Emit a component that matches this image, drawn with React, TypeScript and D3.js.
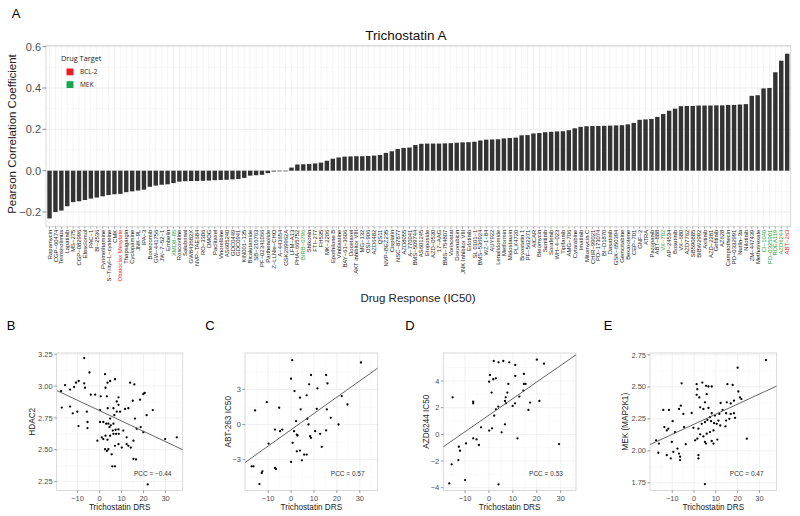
import React from "react";
import * as d3 from "d3";

const drugs: string[] = [
  "Rapamycin","CGP-60474","Temsirolimus","Lapatinib","MS-275","CGP-082996","Elesclomol","PAC-1","BI-2536","Pyrimethamine",
  "S-Trityl-L-cysteine","CMK","Obatoclax Mesylate","Thapsigargin","Cyclopamine","JNK-9L","IPA-3","Bortezomib","GW-441756","JW-7-52-1",
  "Embelin","XMD8-85","Roscovitine","Salubrinal","GW843682X","NVP-TAE684","RO-3306","DMOG","Paclitaxel","Vinorelbine",
  "AS605240","GDC0449","GDC0941","KIN001-135","Bicalutamide","SB-216763","PF-02341066","Parthenolide","Z-LLNle-CHO","A-443654",
  "GSK269962A","LFM-A13","PHA-665752","BIRB-0796","Shikonin","FTI-277","FH535","MK-2206","Epothilone B","Vinblastine",
  "BAY-61-3606","Docetaxel","AKT inhibitor VIII","MG-132","OSI-906","AZD6482","QS11","NVP-BEZ235","Cisplatin","NSC-87877",
  "AZD8055","A-770041","BMS-509744","AS601245","Etoposide","AZD-0530","17-AAG","BMS-754807","Vorinostat","Doxorubicin",
  "JNK Inhibitor VIII","Erlotinib","SL 0101-1","BMS-536924","WZ-1-84","AUY922","Lenalidomide","Metformin","Midostaurin","PLX4720",
  "Bryostatin 1","PF-562271","AICAR","Bleomycin","Sunitinib","Sorafenib","WH-4-023","Tipifarnib","AMG-706","Cytarabine",
  "Imatinib","Mitomycin C","CHIR-99021","PD-173074","BI-D1870","Dasatinib","GSK-650394","Gemcitabine","Bexarotene","CEP-701",
  "GNF-2","ATRA","Pazopanib","ABT-888","VX-702","AP-24534","Bosutinib","VX-680","AZD7762","SB590885",
  "BIBW2992","Axitinib","AZD-2281","Gefitinib","AZ628","Camptothecin","PD-0332991","Nutlin-3a","Nilotinib","ZM-447439",
  "Methotrexate","CI-1040","PD-0325901","RDEA119","AZD6244","ABT-263",
];

const pccValues: number[] = [
  -0.231,-0.200,-0.193,-0.172,-0.152,-0.148,-0.142,-0.135,-0.130,-0.124,
  -0.118,-0.114,-0.112,-0.104,-0.100,-0.096,-0.092,-0.078,-0.072,-0.068,
  -0.066,-0.060,-0.053,-0.051,-0.050,-0.050,-0.049,-0.048,-0.046,-0.045,
  -0.044,-0.042,-0.040,-0.035,-0.024,-0.022,-0.020,-0.012,-0.004,-0.003,
  -0.003,0.015,0.030,0.031,0.032,0.035,0.039,0.048,0.058,0.064,
  0.068,0.069,0.070,0.070,0.071,0.073,0.076,0.086,0.094,0.105,
  0.110,0.112,0.124,0.130,0.131,0.131,0.131,0.132,0.133,0.135,
  0.137,0.138,0.140,0.146,0.150,0.151,0.152,0.156,0.158,0.160,
  0.171,0.172,0.180,0.182,0.186,0.188,0.190,0.191,0.196,0.205,
  0.212,0.215,0.216,0.216,0.217,0.218,0.219,0.220,0.224,0.231,
  0.246,0.248,0.250,0.260,0.274,0.290,0.300,0.312,0.313,0.313,
  0.315,0.315,0.315,0.316,0.316,0.318,0.318,0.320,0.322,0.362,
  0.365,0.398,0.400,0.476,0.532,0.566,
];

const bcl2Drugs: string[] = ["Obatoclax Mesylate", "ABT-263"];
const mekDrugs: string[] = ["XMD8-85", "BIRB-0796", "VX-702", "CI-1040", "PD-0325901", "RDEA119", "AZD6244"];
const barTicks: number[] = [-0.2, 0, 0.2, 0.4, 0.6];
const barMinorTicks: number[] = [-0.1, 0.1, 0.3, 0.5];

const hdac2Points: [number, number][] = [
  [-7,3.22],[-4.6,3.107],[-15.7,3.008],[-17.5,2.96],[-13.4,2.973],[-11.6,2.992],[-10.7,3.027],[-7.0,3.021],[-6.6,2.987],[-9.5,3.04],
  [2.5,3.094],[3.6,3.027],[4.8,3.04],[7.0,3.054],[2.7,2.987],[0.5,2.92],[3.3,2.92],[13.9,3.027],[15.8,3.013],[19.9,2.938],
  [20.5,2.946],[-17.2,2.831],[-13.4,2.839],[-12.2,2.786],[-10.1,2.799],[-5.8,2.799],[-5.5,2.718],[-4.0,2.933],[-2.0,2.933],[0.2,2.812],
  [3.7,2.826],[6.3,2.826],[7.8,2.879],[8.6,2.853],[8.6,2.912],[7.8,2.799],[9.3,2.799],[11.6,2.82],[13.1,2.826],[15.1,2.885],
  [18.4,2.893],[21.4,2.772],[24.2,2.812],[16.1,2.745],[0.2,2.718],[1.7,2.718],[3.0,2.705],[4.0,2.705],[5.1,2.692],[6.0,2.651],
  [7.3,2.657],[8.6,2.66],[6.7,2.772],[4.8,2.745],[4.5,2.678],[6.3,2.705],[-9.6,2.686],[-5.5,2.67],[-1.0,2.571],[1.0,2.598],
  [1.7,2.584],[2.7,2.611],[3.6,2.579],[4.8,2.611],[6.3,2.625],[7.5,2.625],[8.7,2.625],[10.8,2.651],[12.3,2.598],[15.4,2.571],
  [16.9,2.665],[18.7,2.678],[29.8,2.584],[35.1,2.598],[7.0,2.531],[8.6,2.544],[10.1,2.517],[4.0,2.504],[5.5,2.464],[12.3,2.544],
  [13.1,2.531],[14.2,2.517],[15.4,2.429],[16.6,2.424],[5.8,2.37],[7.0,2.37],[2.5,2.504],[3.3,2.491],[19.9,2.638],[21.9,2.228],
];

const abt263Points: [number, number][] = [
  [0.5,5.5],[30.5,5.3],[0,3.91],[8.7,4.23],[15.3,4.23],[7.9,3.43],[1.5,2.86],[11.5,3.09],[15.9,3.51],[3.9,2.29],
  [6.8,2.49],[-10.6,1.91],[-5.2,1.43],[-15.7,1.2],[4.2,1.29],[11.2,1.34],[15.6,1.29],[7.1,0.49],[17.3,0.57],[22.1,2.43],
  [24.6,1.71],[20.7,0],[7.6,0],[2.2,0.29],[-7.0,-0.43],[-3.8,-0.43],[-4.8,-0.57],[1.3,-0.57],[2.5,-0.86],[2.8,-0.94],
  [8.3,-1.0],[8.7,-1.14],[10.5,-0.57],[12.7,-0.8],[15.3,-0.51],[-9.8,-1.63],[0.7,-1.57],[2.5,-2.29],[3.9,-2.23],[5.7,-2.57],
  [6.8,-2.57],[4.7,-3.06],[0,-3.2],[13.4,-1.91],[-17.2,-3.57],[-16.4,-3.57],[-7.0,-3.71],[-6.6,-3.8],[-12.8,-4.14],[-12.5,-4.0],
  [-13.8,-5.09],
];

const azd6244Points: [number, number][] = [
  [2,5.5],[4,5.4],[6,5.5],[8.5,5.4],[11,5.2],[20,5.6],[23,5.3],
  [0.4,4.45],[1.8,4.13],[2.9,4.2],[0.1,3.95],[11.0,4.38],[14.6,4.53],[14.6,3.78],[15.3,3.78],[8.1,3.78],[14.4,3.28],[1.1,3.13],
  [7.7,3.13],[7.0,2.78],[-15.2,2.78],[-6.6,2.45],[-6.6,2.33],[6.7,2.5],[7.1,2.33],[12.7,2.83],[10.9,2.33],[9.9,2.13],
  [17.2,2.38],[21.1,2.5],[2.9,1.88],[3.9,2.08],[2.2,1.4],[16.5,1.83],[6.7,0.75],[1.3,0.45],[-3.3,0.53],[0.1,0.28],
  [5.3,0.15],[-6.6,-0.3],[-5.2,-0.38],[-9.6,-0.68],[-4.2,-0.8],[11.9,-0.3],[29.3,-0.73],[-12.6,-0.93],[-12.1,-1.23],[-12.8,-1.93],
  [-15.6,-2.25],[-10.0,-3.43],[-16.6,-3.68],[4.0,-3.75],
];

const mekPoints: [number, number][] = [
  [33,2.71],[20,2.65],
  [-5.7,2.528],[3.8,2.534],[5.5,2.508],[1.2,2.521],[1.5,2.482],[6.6,2.503],[8.1,2.503],[15.3,2.521],[17.7,2.515],[20.3,2.464],
  [21.1,2.418],[21.7,2.405],[1.2,2.438],[2.4,2.418],[5.8,2.443],[5.0,2.379],[12.2,2.374],[15.0,2.379],[16.8,2.371],[18.3,2.392],
  [-6.1,2.353],[-6.9,2.327],[-11.5,2.32],[-14.1,2.32],[-4.9,2.289],[-1.1,2.296],[2.8,2.34],[4.3,2.327],[6.6,2.335],[8.1,2.294],
  [7.3,2.263],[9.6,2.276],[11.6,2.289],[13.1,2.32],[14.7,2.294],[16.8,2.289],[18.3,2.294],[18.8,2.258],[-13.6,2.186],[-12.5,2.16],
  [-11.8,2.173],[-9.8,2.232],[-8.7,2.147],[-4.6,2.186],[-0.3,2.18],[2.0,2.173],[3.5,2.211],[5.0,2.224],[6.1,2.242],[7.8,2.232],
  [9.2,2.216],[10.4,2.211],[11.2,2.237],[12.0,2.198],[14.4,2.191],[14.7,2.237],[16.2,2.25],[2.8,2.129],[4.3,2.113],[5.8,2.134],
  [5.0,2.07],[5.5,2.057],[7.3,2.147],[8.9,2.16],[10.7,2.088],[8.1,2.077],[0.5,2.082],[1.5,2.095],[24.2,2.095],[-17.4,2.082],
  [-16.1,2.057],[-10.2,2.07],[-9.5,1.992],[-7.6,2.018],[-6.9,1.979],[-6.4,1.954],[-6.4,1.928],[-12.5,1.966],[-10.7,1.941],[-16.4,1.985],
  [2.0,1.966],[2.0,1.941],[-3.8,2.052],[5.0,1.74],[8.9,2.057],
];

// [intercept, slope] of the fitted line in each scatter
const hdac2Fit: [number, number] = [2.807, -0.00811];
const abt263Fit: [number, number] = [-0.448, 0.1394];
const azd6244Fit: [number, number] = [1.442, 0.1242];
const mekFit: [number, number] = [2.208, 0.00788];

const scatterXTicks: number[] = [-10, 0, 10, 20, 30];

const FONT = "'Liberation Sans', Arial, Helvetica, sans-serif";
const fmtMinus = (s: string) => s.replace("-", "\u2212");

type ScatterProps = {
  id: string;
  letter: string;
  letterX: number;
  left: number;
  right: number;
  top: number;
  bottom: number;
  xDomain: [number, number];
  yDomain: [number, number];
  yTicks: number[];
  yFmt: (v: number) => string;
  points: [number, number][];
  fit: [number, number];
  yLabel: string;
  pcc: string;
};

function Scatter(p: ScatterProps) {
  const x = d3.scaleLinear().domain(p.xDomain).range([p.left, p.right]);
  const y = d3.scaleLinear().domain(p.yDomain).range([p.bottom, p.top]);
  const xMinor = scatterXTicks.map((t) => t - 5).concat([scatterXTicks[scatterXTicks.length - 1] + 5]).filter((t) => t > p.xDomain[0] && t < p.xDomain[1]);
  const yStep = p.yTicks[1] - p.yTicks[0];
  const yMinor = [p.yTicks[0] - yStep / 2, ...p.yTicks.map((t) => t + yStep / 2)].filter((t) => t > p.yDomain[0] && t < p.yDomain[1]);
  const [a, b] = p.fit;
  const cx = (p.left + p.right) / 2;
  const cy = (p.top + p.bottom) / 2;
  return (
    <g>
      <text x={p.letterX} y={330} fontSize={13} fontFamily={FONT} textAnchor="middle" fill="#000">{p.letter}</text>
      <defs>
        <clipPath id={`clip-${p.id}`}>
          <rect x={p.left} y={p.top} width={p.right - p.left} height={p.bottom - p.top} />
        </clipPath>
      </defs>
      <rect x={p.left} y={p.top} width={p.right - p.left} height={p.bottom - p.top} fill="#fff" />
      {xMinor.map((t) => (
        <line key={`xm${t}`} x1={x(t)} x2={x(t)} y1={p.top} y2={p.bottom} stroke="#f4f4f4" strokeWidth={0.5} />
      ))}
      {yMinor.map((t) => (
        <line key={`ym${t}`} x1={p.left} x2={p.right} y1={y(t)} y2={y(t)} stroke="#f4f4f4" strokeWidth={0.5} />
      ))}
      {scatterXTicks.map((t) => (
        <line key={`xg${t}`} x1={x(t)} x2={x(t)} y1={p.top} y2={p.bottom} stroke="#ebebeb" strokeWidth={0.7} />
      ))}
      {p.yTicks.map((t) => (
        <line key={`yg${t}`} x1={p.left} x2={p.right} y1={y(t)} y2={y(t)} stroke="#ebebeb" strokeWidth={0.7} />
      ))}
      <rect x={p.left} y={p.top} width={p.right - p.left} height={p.bottom - p.top} fill="none" stroke="#d0d0d0" strokeWidth={0.8} />
      <g clipPath={`url(#clip-${p.id})`}>
        {p.points.map((d, i) => (
          <circle key={i} cx={x(d[0])} cy={y(d[1])} r={1.15} fill="#000" />
        ))}
        <line
          x1={x(p.xDomain[0])}
          y1={y(a + b * p.xDomain[0])}
          x2={x(p.xDomain[1])}
          y2={y(a + b * p.xDomain[1])}
          stroke="#555"
          strokeWidth={0.9}
        />
      </g>
      {scatterXTicks.map((t) => (
        <g key={`xt${t}`}>
          <line x1={x(t)} x2={x(t)} y1={p.bottom} y2={p.bottom + 2.5} stroke="#555" strokeWidth={0.6} />
          <text x={x(t)} y={p.bottom + 10} fontSize={7.5} fontFamily={FONT} textAnchor="middle" fill="#4d4d4d">
            {fmtMinus(String(t))}
          </text>
        </g>
      ))}
      {p.yTicks.map((t) => (
        <g key={`yt${t}`}>
          <line x1={p.left - 2.5} x2={p.left} y1={y(t)} y2={y(t)} stroke="#555" strokeWidth={0.6} />
          <text x={p.left - 4} y={y(t) + 2.6} fontSize={7.5} fontFamily={FONT} textAnchor="end" fill="#4d4d4d">
            {fmtMinus(p.yFmt(t))}
          </text>
        </g>
      ))}
      <text x={cx} y={p.bottom + 19} fontSize={8.2} fontFamily={FONT} textAnchor="middle" fill="#222">Trichostatin DRS</text>
      <text
        transform={`translate(${p.left - (p.yFmt(p.yTicks[0]).length > 2 ? 22 : 14)},${cy}) rotate(-90)`}
        fontSize={8.2}
        fontFamily={FONT}
        textAnchor="middle"
        fill="#222"
      >
        {p.yLabel}
      </text>
      <text x={p.right - 30} y={p.bottom - 15} fontSize={6.5} fontFamily={FONT} textAnchor="middle" fill="#333">{p.pcc}</text>
    </g>
  );
}

export default function App() {
  const left = 46;
  const right = 790.7;
  const top = 45.4;
  const bottom = 226.7;
  const n = drugs.length;
  const pIn = 0.25;
  const x = d3
    .scaleBand<string>()
    .domain(drugs)
    .range([left, right])
    .paddingInner(pIn)
    .paddingOuter((0.2 + pIn) / 2);
  const y = d3.scaleLinear().domain([-0.271, 0.606]).range([bottom, top]);
  const bw = x.bandwidth();
  const labelColor = (d: string) => (bcl2Drugs.includes(d) ? "#e8192c" : mekDrugs.includes(d) ? "#1f9e3c" : "#1a1a1a");
  void n;

  return (
    <svg width={800} height={516} style={{ position: "absolute", left: 0, top: 0, background: "#fff" }} fontFamily={FONT}>
      <rect x={0} y={0} width={800} height={516} fill="#fff" />
      <text x={16} y={18} fontSize={13} fill="#000" textAnchor="middle">A</text>
      <text x={406} y={40} fontSize={13.5} fill="#111" textAnchor="middle">Trichostatin A</text>

      {/* grid */}
      {drugs.map((d) => (
        <line key={`vg${d}`} x1={x(d)! + bw / 2} x2={x(d)! + bw / 2} y1={top} y2={bottom} stroke="#ececec" strokeWidth={0.6} />
      ))}
      {barMinorTicks.map((t) => (
        <line key={`hm${t}`} x1={left} x2={right} y1={y(t)} y2={y(t)} stroke="#f3f3f3" strokeWidth={0.6} />
      ))}
      {barTicks.map((t) => (
        <line key={`hg${t}`} x1={left} x2={right} y1={y(t)} y2={y(t)} stroke="#e8e8e8" strokeWidth={0.8} />
      ))}

      {/* bars */}
      {drugs.map((d, i) => {
        const v = pccValues[i];
        return (
          <rect
            key={`b${d}`}
            x={x(d)!}
            width={bw}
            y={y(Math.max(0, v))}
            height={Math.abs(y(v) - y(0))}
            fill="#333333"
          />
        );
      })}
      <rect x={left} y={top} width={right - left} height={bottom - top} fill="none" stroke="#cfcfcf" strokeWidth={0.8} />

      {/* y axis */}
      {barTicks.map((t) => (
        <g key={`yt${t}`}>
          <line x1={left - 3.5} x2={left} y1={y(t)} y2={y(t)} stroke="#555" strokeWidth={0.7} />
          <text x={left - 5} y={y(t) + 4} fontSize={11} textAnchor="end" fill="#4d4d4d">
            {fmtMinus(t.toFixed(1))}
          </text>
        </g>
      ))}
      <text transform={`translate(16,${(top + bottom) / 2 - 2}) rotate(-90)`} fontSize={11.5} textAnchor="middle" fill="#222">
        Pearson Correlation Coefficient
      </text>

      {/* x labels */}
      {drugs.map((d) => (
        <g key={`xl${d}`}>
          <line x1={x(d)! + bw / 2} x2={x(d)! + bw / 2} y1={bottom} y2={bottom + 2} stroke="#555" strokeWidth={0.5} />
          <text
            transform={`translate(${x(d)! + bw / 2 + 2.1},${bottom + 3}) rotate(-90)`}
            fontSize={5.9}
            textAnchor="end"
            fill={labelColor(d)}
          >
            {d.replace(/-/g, "\u2212")}
          </text>
        </g>
      ))}
      <text x={418} y={302} fontSize={11.5} textAnchor="middle" fill="#222">Drug Response (IC50)</text>

      {/* legend */}
      <g fontFamily="'Open Sans', 'Noto Sans', sans-serif">
        <text x={61} y={61} fontSize={7.3} fill="#222">Drug Target</text>
        <rect x={66.5} y={68.5} width={7} height={6.8} fill="#ee1c25" />
        <text x={80} y={74.2} fontSize={6.5} fill="#222">BCL-2</text>
        <rect x={66.5} y={81.2} width={7} height={6.8} fill="#1aa54a" />
        <text x={80} y={86.9} fontSize={6.5} fill="#222">MEK</text>
      </g>

      <Scatter
        id="b" letter="B" letterX={11} left={56.7} right={182.7} top={353} bottom={490.5}
        xDomain={[-19.5, 37.8]} yDomain={[2.18, 3.26]} yTicks={[2.25, 2.5, 2.75, 3.0, 3.25]}
        yFmt={(v) => v.toFixed(2)} points={hdac2Points} fit={hdac2Fit} yLabel="HDAC2" pcc="PCC = −0.44"
      />
      <Scatter
        id="c" letter="C" letterX={210} left={245} right={377.7} top={353} bottom={490.5}
        xDomain={[-20.1, 37.8]} yDomain={[-5.64, 6.11]} yTicks={[-3, 0, 3]}
        yFmt={(v) => String(v)} points={abt263Points} fit={abt263Fit} yLabel="ABT-263 IC50" pcc="PCC = 0.57"
      />
      <Scatter
        id="d" letter="D" letterX={410} left={443.3} right={576} top={353} bottom={490.5}
        xDomain={[-19.1, 36.4]} yDomain={[-4.21, 6.1]} yTicks={[-4, -2, 0, 2, 4]}
        yFmt={(v) => String(v)} points={azd6244Points} fit={azd6244Fit} yLabel="AZD6244 IC50" pcc="PCC = 0.53"
      />
      <Scatter
        id="e" letter="E" letterX={608} left={650} right={776.7} top={353} bottom={490.5}
        xDomain={[-20.2, 37.9]} yDomain={[1.69, 2.765]} yTicks={[1.75, 2.0, 2.25, 2.5, 2.75]}
        yFmt={(v) => v.toFixed(2)} points={mekPoints} fit={mekFit} yLabel="MEK (MAP2K1)" pcc="PCC = 0.47"
      />
    </svg>
  );
}
